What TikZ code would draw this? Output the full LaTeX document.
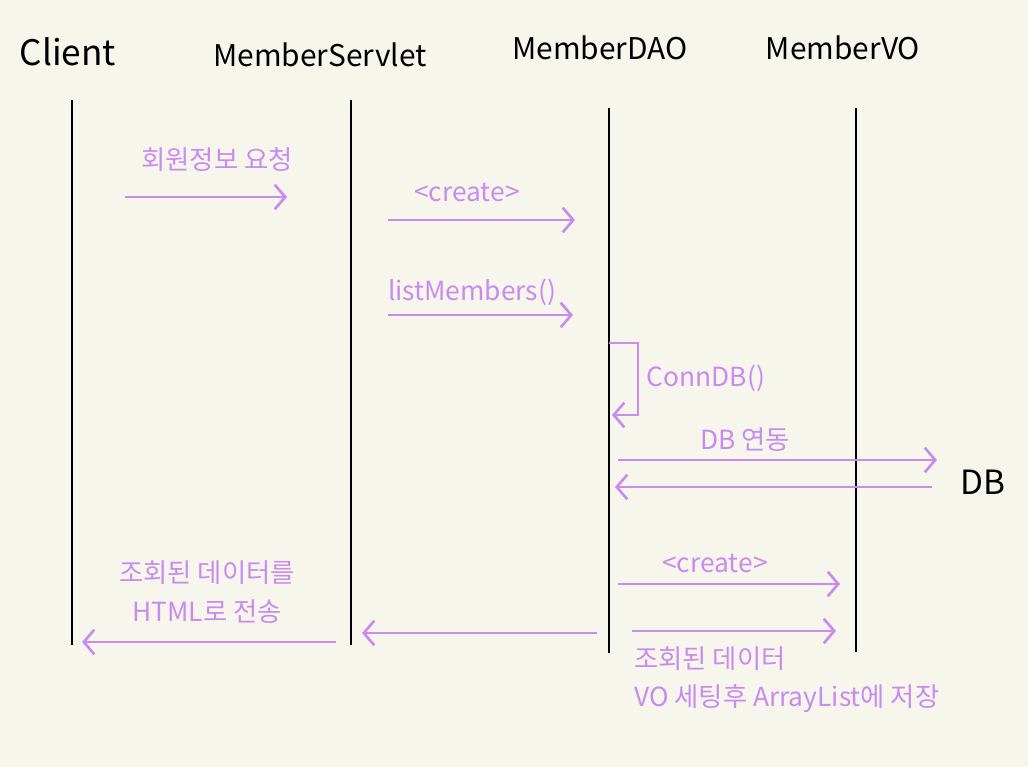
\documentclass[tikz,border=0pt]{standalone}
\usepackage{fontspec}
\newfontfamily\kr{Noto Sans CJK KR}
\usetikzlibrary{arrows.meta}
\definecolor{paper}{HTML}{F7F6EC}
\definecolor{pen}{HTML}{C98BEF}
\tikzstyle{head} = [font=\kr\fontsize{17}{20}\selectfont,
text=black]
\tikzstyle{msg} = [font=\kr\fontsize{15}{22}\selectfont,
text=pen,
align=center]
\tikzstyle{life} = [line width=1.6pt, draw=black]
\tikzstyle{arrow} = [line width=1.5pt, draw=pen,
-{Straight Barb[length=6pt,width=14pt,line width=1.5pt]}]

\begin{document}
\begin{tikzpicture}[x=0.02cm, y=-0.02cm]
\fill [paper] (0,0) rectangle (1028,767);
% headers
\node (client) [head, font=\kr\fontsize{20}{24}\selectfont] at (68,52) {Client};
\node (servlet) [head] at (320,55) {MemberServlet};
\node (dao) [head] at (600,48) {MemberDAO};
\node (vo) [head] at (843,48) {MemberVO};
\node (db) [head, font=\kr\fontsize{19}{24}\selectfont] at (983,482) {DB};
% lifelines
\coordinate (c1) at (72,100);
\coordinate (c2) at (72,645);
\coordinate (s1) at (351,100);
\coordinate (s2) at (351,645);
\coordinate (d1) at (609,108);
\coordinate (d2) at (609,653);
\coordinate (v1) at (856,108);
\coordinate (v2) at (856,652);
\draw [life] (c1) -- (c2);
\draw [life] (s1) -- (s2);
\draw [life] (d1) -- (d2);
\draw [life] (v1) -- (v2);
% messages
\coordinate (m1a) at (125,197);
\coordinate (m1b) at (287,197);
\draw [arrow] (m1a) -- (m1b);
\node (l1) [msg] at (217,160) {회원정보 요청};
\coordinate (m2a) at (388,220);
\coordinate (m2b) at (575,220);
\draw [arrow] (m2a) -- (m2b);
\node (l2) [msg] at (467,192) {<create>};
\coordinate (m3a) at (388,315);
\coordinate (m3b) at (573,315);
\draw [arrow] (m3a) -- (m3b);
\node (l3) [msg] at (472,292) {listMembers()};
% self call
\coordinate (m4a) at (609,343);
\coordinate (m4b) at (612,415);
\draw [arrow] (m4a) -- (638,343) -- (638,415) -- (m4b);
\node (l4) [msg] at (706,378) {ConnDB()};
% database
\coordinate (m5a) at (618,460);
\coordinate (m5b) at (937,460);
\draw [arrow] (m5a) -- (m5b);
\node (l5) [msg] at (745,440) {DB 연동};
\coordinate (m6a) at (932,487);
\coordinate (m6b) at (615,487);
\draw [arrow] (m6a) -- (m6b);
% value objects
\coordinate (m7a) at (618,584);
\coordinate (m7b) at (840,584);
\draw [arrow] (m7a) -- (m7b);
\node (l7) [msg] at (715,563) {<create>};
\coordinate (m8a) at (632,631);
\coordinate (m8b) at (836,631);
\draw [arrow] (m8a) -- (m8b);
\node (l8) [msg, align=left, anchor=north west] at (628,640) {조회된 데이터\\VO 세팅후 ArrayList에 저장};
% results
\coordinate (m9a) at (597,633);
\coordinate (m9b) at (362,633);
\draw [arrow] (m9a) -- (m9b);
\coordinate (m10a) at (336,642);
\coordinate (m10b) at (82,642);
\draw [arrow] (m10a) -- (m10b);
\node (l10) [msg] at (207,592) {조회된 데이터를\\HTML로 전송};
\end{tikzpicture}
\end{document}
